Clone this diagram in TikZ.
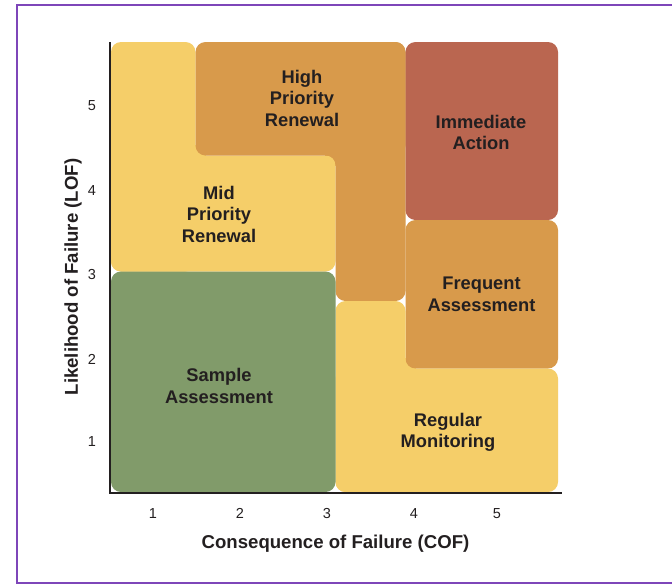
\documentclass[tikz,border=0pt]{standalone}
\usepackage{fontspec}
\setmainfont{Liberation Sans}
\definecolor{cyellow}{HTML}{F5CE69}
\definecolor{corange}{HTML}{D89A4B}
\definecolor{cred}{HTML}{BA6650}
\definecolor{cgreen}{HTML}{819B6A}
\definecolor{cpurple}{HTML}{7E46B9}
\definecolor{ctext}{HTML}{231F20}
\begin{document}
\begin{tikzpicture}[x=1pt,y=-1pt,
  zone/.style={rounded corners=10pt},
  zonelabel/.style={align=center,text=ctext,font=\fontsize{18.3}{21.5}\selectfont\bfseries,inner sep=0pt},
  ticklabel/.style={text=ctext,font=\fontsize{14.5}{16}\selectfont,inner sep=0pt},
  axistitle/.style={text=ctext,font=\fontsize{18.6}{20}\selectfont\bfseries,inner sep=0pt},
  axisline/.style={draw=ctext,line width=1.8pt}]
\useasboundingbox (0,0) rectangle (672,584);
\fill[white] (0,0) rectangle (672,584);
% frame
\draw[cpurple,line width=2pt] (673,4.5) -- (17,4.5) -- (17,582.5) -- (673,582.5);
% concave-corner fillers
\fill[cyellow] (190,145) rectangle (206,161);
\fill[corange] (325,150) rectangle (341,166);
\fill[cyellow] (400,358) rectangle (416,374);
% Mid Priority Renewal (yellow L)
\fill[cyellow,zone] (111,42) rectangle (195.5,271.5);
\fill[cyellow,zone] (111,155.5) rectangle (335.5,271.5);
% High Priority Renewal (orange L)
\fill[corange,zone] (195.5,42) rectangle (405.5,155.5);
\fill[corange,zone] (335.5,42) rectangle (405.5,301);
% Immediate Action
\fill[cred,zone] (405.5,42) rectangle (558,220);
% Frequent Assessment
\fill[corange,zone] (405.5,220) rectangle (558,368.5);
% Regular Monitoring (yellow L)
\fill[cyellow,zone] (335.5,301) rectangle (405.5,492);
\fill[cyellow,zone] (335.5,368.5) rectangle (558,492);
% Sample Assessment
\fill[cgreen,zone] (111,271.5) rectangle (335.5,492);
% labels
\node[zonelabel] (mid) at (219,214) {Mid\\Priority\\Renewal};
\node[zonelabel] (high) at (302,98) {High\\Priority\\Renewal};
\node[zonelabel] (imm) at (481,132.5) {Immediate\\Action};
\node[zonelabel] (freq) at (481.5,294.5) {Frequent\\Assessment};
\node[zonelabel] (reg) at (448,432.5) {Regular\\Monitoring};
\node[zonelabel] (samp) at (219,386) {Sample\\Assessment};
% axes
\coordinate (ytop) at (110,42);
\coordinate (origin) at (110,493);
\coordinate (xend) at (562,493);
\draw[axisline] (ytop) -- (origin) -- (xend);
% ticks
\foreach \v/\x in {1/153,2/240,3/327,4/414,5/497}
  \node[ticklabel] (xt\v) at (\x,513.5) {\v};
\foreach \v/\y in {1/441.5,2/359.5,3/275,4/190.5,5/106}
  \node[ticklabel] (yt\v) at (92,\y) {\v};
\node[axistitle] (xtitle) at (335.5,544) {Consequence of Failure (COF)};
\node[axistitle,rotate=90] (ytitle) at (73,277) {Likelihood of Failure (LOF)};
\end{tikzpicture}
\end{document}
